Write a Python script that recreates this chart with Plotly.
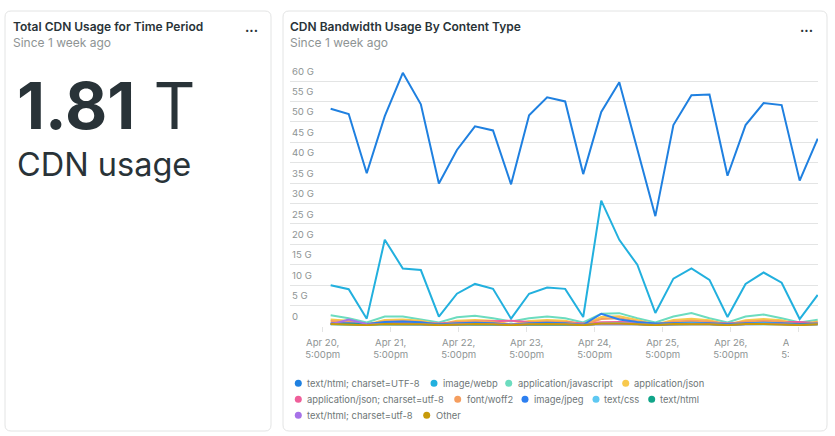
import pandas as pd
import plotly.graph_objects as go

# ---------------- data ----------------
times = pd.date_range("2024-04-20 19:49", periods=28, freq="382min")

series_names = [
    "text/html; charset=UTF-8", "image/webp", "application/javascript", "application/json",
    "application/json; charset=utf-8", "font/woff2", "image/jpeg", "text/css", "text/html",
    "text/html; charset=utf-8", "Other",
]
series_colors = [
    "#1f80e0", "#22b0de", "#6cdcbf", "#f8c94d", "#ef5f9a", "#f59e5f",
    "#2d7ff0", "#5ec8f2", "#11a589", "#a772e8", "#c79a0a",
]

html_utf8 = [53.2, 51.9, 37.4, 51.4, 62.0, 54.3, 34.9, 43.1, 48.9, 47.9, 34.7, 51.6, 56.0, 55.0,
             37.2, 52.4, 59.7, 43.5, 26.9, 49.2, 56.5, 56.7, 36.8, 49.2, 54.6, 54.1, 35.6, 45.9]
webp = [10.0, 9.0, 1.8, 21.1, 14.1, 13.7, 2.3, 7.9, 10.3, 9.1, 1.8, 7.9, 9.4, 9.1,
        2.2, 30.7, 21.1, 15.0, 3.2, 11.6, 14.1, 11.3, 2.2, 10.3, 13.1, 10.6, 1.7, 7.6]
javascript = [2.66, 1.92, 0.86, 2.33, 2.33, 1.52, 0.86, 2.15, 2.5, 1.92, 1.1, 1.92, 2.33, 1.92,
              0.86, 2.98, 3.15, 1.92, 0.86, 2.33, 3.15, 1.92, 0.86, 2.33, 2.82, 1.92, 0.86, 1.52]
json_ = [1.6, 1.3, 0.4, 1.5, 1.6, 1.3, 0.4, 1.3, 1.5, 1.3, 0.4, 1.2, 1.5, 1.3,
         0.4, 2.2, 2.4, 1.5, 0.4, 1.5, 1.8, 1.4, 0.4, 1.4, 1.7, 1.4, 0.4, 1.1]
json_utf8 = [0.7, 0.9, 0.5, 0.8, 0.9, 0.8, 0.6, 0.9, 1.0, 1.1, 1.3, 1.0, 0.9, 1.0,
             0.6, 0.9, 1.0, 0.9, 0.5, 0.8, 0.9, 0.9, 0.6, 0.9, 1.0, 1.0, 1.0, 0.7]
woff2 = [1.2, 1.0, 0.3, 1.1, 1.2, 1.0, 0.3, 1.0, 1.1, 1.0, 0.3, 0.9, 1.1, 1.0,
         0.3, 1.7, 1.9, 1.1, 0.3, 1.1, 1.3, 1.1, 0.3, 1.1, 1.3, 1.1, 0.3, 0.9]
jpeg = [0.6, 0.7, 0.5, 1.0, 1.1, 0.9, 0.4, 0.7, 0.8, 0.7, 0.3, 0.7, 0.8, 0.7,
        0.3, 3.0, 1.6, 1.0, 0.6, 0.7, 0.8, 0.7, 0.5, 0.7, 0.8, 0.7, 0.5, 0.6]
css = [0.5, 0.4, 0.2, 0.5, 0.5, 0.4, 0.2, 0.4, 0.5, 0.4, 0.2, 0.4, 0.5, 0.4,
       0.2, 0.6, 0.7, 0.5, 0.2, 0.5, 0.6, 0.5, 0.2, 0.5, 0.6, 0.5, 0.2, 0.4]
html = [0.4, 0.4, 0.3, 0.4, 0.4, 0.4, 0.3, 0.4, 0.4, 0.4, 0.3, 0.4, 0.4, 0.4,
        0.3, 0.5, 0.5, 0.4, 0.3, 0.4, 0.4, 0.4, 0.3, 0.4, 0.4, 0.4, 0.3, 0.4]
html_lower_utf8 = [0.4, 1.6, 0.5, 0.5, 0.5, 0.4, 0.3, 0.4, 0.5, 0.4, 0.3, 0.4, 0.5, 0.4,
                   0.3, 0.5, 0.5, 0.4, 0.3, 0.4, 0.5, 0.4, 0.3, 0.4, 0.5, 0.4, 0.3, 0.4]
other = [0.5, 0.4, 0.2, 0.5, 0.5, 0.4, 0.2, 0.4, 0.5, 0.4, 0.2, 0.4, 0.5, 0.4,
         0.2, 0.6, 0.6, 0.4, 0.2, 0.5, 0.5, 0.4, 0.2, 0.5, 0.5, 0.4, 0.2, 0.4]

series_values = [html_utf8, webp, javascript, json_, json_utf8, woff2, jpeg, css, html,
                 html_lower_utf8, other]

y_tick_vals = [0, 5, 10, 15, 20, 25, 30, 35, 40, 45, 50, 55, 60]
y_tick_text = ["0", "5 G", "10 G", "15 G", "20 G", "25 G", "30 G", "35 G", "40 G", "45 G",
               "50 G", "55 G", "60 G"]
x_tick_vals = ["2024-04-20 17:00", "2024-04-21 17:00", "2024-04-22 17:00", "2024-04-23 17:00",
               "2024-04-24 17:00", "2024-04-25 17:00", "2024-04-26 17:00", "2024-04-27 17:00"]
x_tick_text = ["Apr 20,<br>5:00pm", "Apr 21,<br>5:00pm", "Apr 22,<br>5:00pm", "Apr 23,<br>5:00pm",
               "Apr 24,<br>5:00pm", "Apr 25,<br>5:00pm", "Apr 26,<br>5:00pm", "Apr 27,<br>5:00pm"]

total_value = "1.81"
total_unit = "T"
total_label = "CDN usage"

# ---------------- layout helpers ----------------
W, H = 835, 436
ML, MR, MT, MB = 290, 17, 65, 110
PW, PH = W - ML - MR, H - MT - MB
FONT = "Inter"
DARK = "#293338"
GRAY = "#8e9494"
BORDER = "#e3e4e4"


def px(x):
    return (x - ML) / PW


def py(y):
    return (H - MB - y) / PH


def rounded_path(x0, y0, x1, y1, r):
    pts = [
        f"M {px(x0 + r)},{py(y0)}", f"L {px(x1 - r)},{py(y0)}",
        f"Q {px(x1)},{py(y0)} {px(x1)},{py(y0 + r)}", f"L {px(x1)},{py(y1 - r)}",
        f"Q {px(x1)},{py(y1)} {px(x1 - r)},{py(y1)}", f"L {px(x0 + r)},{py(y1)}",
        f"Q {px(x0)},{py(y1)} {px(x0)},{py(y1 - r)}", f"L {px(x0)},{py(y0 + r)}",
        f"Q {px(x0)},{py(y0)} {px(x0 + r)},{py(y0)}", "Z",
    ]
    return " ".join(pts)


fig = go.Figure()
for name, color, vals in zip(series_names, series_colors, series_values):
    fig.add_trace(go.Scatter(x=times, y=vals, name=name, mode="lines",
                             line=dict(color=color, width=2), showlegend=False))

shapes = [
    dict(type="path", xref="paper", yref="paper", path=rounded_path(5, 11, 271, 431, 6),
         line=dict(color=BORDER, width=1), fillcolor="white", layer="below"),
    dict(type="path", xref="paper", yref="paper", path=rounded_path(283, 11, 827, 431, 6),
         line=dict(color=BORDER, width=1), fillcolor="white", layer="below"),
    # clip of the last x tick label at the chart edge
    dict(type="rect", xref="paper", yref="paper", x0=px(789), x1=px(824), y0=py(368), y1=py(333),
         line=dict(width=0), fillcolor="white", layer="above"),
]

annotations = []


def add_text(text, x, y, size, color, weight=400, xanchor="left"):
    annotations.append(dict(text=text, x=px(x), y=py(y), xref="paper", yref="paper",
                            xanchor=xanchor, yanchor="middle", showarrow=False,
                            font=dict(family=FONT, size=size, color=color, weight=weight)))


add_text("Total CDN Usage for Time Period", 11, 26.5, 12, DARK, 600)
add_text("Since 1 week ago", 11, 43, 12, GRAY)
add_text("...", 251, 27, 13, DARK, 700, "center")
add_text("CDN Bandwidth Usage By Content Type", 288, 26.5, 12, DARK, 600)
add_text("Since 1 week ago", 288, 43, 12, GRAY)
add_text("...", 806, 27, 13, DARK, 700, "center")
add_text(f"<b>{total_value}</b> {total_unit}", 15, 105.5, 65, DARK)
add_text(total_label, 15, 164, 32.5, DARK)

# legend (custom, dot + label)
legend_rows = [
    [(298.3, 306), (434, 441.7), (508.7, 516.7), (625.7, 633.3)],
    [(298.3, 306), (457.7, 465.7), (525, 533.3), (596, 603.3), (651.7, 659.3)],
    [(298.3, 306), (426.7, 435)],
]
row_y = [383.3, 399.3, 415.2]
k = 0
for r, row in enumerate(legend_rows):
    for dot_x, text_x in row:
        yy = row_y[r]
        shapes.append(dict(type="circle", xref="paper", yref="paper",
                           x0=px(dot_x - 3.5), x1=px(dot_x + 3.5),
                           y0=py(yy + 3.5), y1=py(yy - 3.5),
                           fillcolor=series_colors[k], line=dict(width=0)))
        add_text(series_names[k], text_x - 1, yy, 9.4, "#6e7676")
        k += 1

fig.update_layout(
    width=W, height=H,
    margin=dict(l=ML, r=MR, t=MT, b=MB, pad=0),
    paper_bgcolor="white", plot_bgcolor="rgba(0,0,0,0)",
    font=dict(family=FONT, size=10, color=GRAY),
    showlegend=False,
    shapes=shapes, annotations=annotations,
    xaxis=dict(range=["2024-04-20 05:28", "2024-04-27 23:49"], showgrid=False, zeroline=False,
               showline=False, tickvals=x_tick_vals, ticktext=x_tick_text, ticks="outside",
               ticklen=5, tickcolor=BORDER, tickwidth=1, ticklabelstandoff=2,
               tickfont=dict(family=FONT, size=9.6, color=GRAY)),
    yaxis=dict(range=[0, 261 / (245 / 60)], tickvals=y_tick_vals, ticktext=y_tick_text,
               ticklabelposition="inside top", ticklabelshift=-3, ticklabelstandoff=-1,
               showgrid=True, gridcolor=BORDER, gridwidth=1,
               zeroline=False, showline=False, ticks="",
               tickfont=dict(family=FONT, size=9.6, color=GRAY)),
)

fig.write_html("out.html")
